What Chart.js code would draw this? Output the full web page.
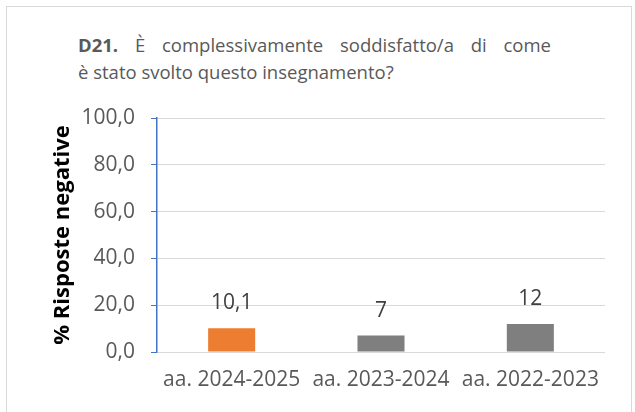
<!DOCTYPE html>
<html lang="it">
<head>
<meta charset="UTF-8" />
<title>D21</title>
<script src="https://cdn.jsdelivr.net/npm/chart.js"></script>
<style>
  html, body { margin: 0; padding: 0; background: #fff; }
  #wrap { position: relative; width: 635px; height: 412px; overflow: hidden; }
  #cornice {
    position: absolute; left: 6px; top: 6px; width: 626px; height: 420px;
    border: 1px solid #d9d9d9; box-sizing: border-box;
  }
  #titolo {
    position: absolute; left: 78px; top: 31px;
    font-family: "Open Sans", sans-serif; font-size: 18.5px; line-height: 27px; color: #595959;
  }
  #titolo .r1 { width: 473px; text-align: justify; text-align-last: justify; white-space: nowrap; }
  #grafico { position: absolute; left: 0; top: 0; }
</style>
</head>
<body>
<div id="wrap">
  <div id="cornice"></div>
  <div id="titolo">
    <div class="r1"><b>D21.</b> È complessivamente soddisfatto/a di come</div>
    <div>è stato svolto questo insegnamento?</div>
  </div>
  <canvas id="grafico" width="635" height="412"></canvas>
</div>

<script>
  // Dati
  const anni = ['aa. 2024-2025', 'aa. 2023-2024', 'aa. 2022-2023'];
  const risposteNegative = [10.1, 7, 12];
  const coloriBarre = ['#ED7D31', '#7F7F7F', '#7F7F7F'];
  const tickY = [0, 20, 40, 60, 80, 100];

  // Etichette sopra le barre
  const etichette = {
    id: 'etichette',
    afterDatasetsDraw(chart) {
      const ctx = chart.ctx;
      const meta = chart.getDatasetMeta(0);
      ctx.save();
      ctx.font = '21px "Open Sans", sans-serif';
      ctx.fillStyle = '#404040';
      ctx.textAlign = 'center';
      ctx.textBaseline = 'alphabetic';
      meta.data.forEach((bar, i) => {
        const testo = String(risposteNegative[i]).replace('.', ',');
        ctx.fillText(testo, bar.x, bar.y - 19);
      });
      ctx.restore();
    }
  };

  const ctx = document.getElementById('grafico').getContext('2d');
  new Chart(ctx, {
    type: 'bar',
    data: {
      labels: anni,
      datasets: [{
        data: risposteNegative,
        backgroundColor: coloriBarre,
        categoryPercentage: 1,
        barPercentage: 0.315
      }]
    },
    options: {
      responsive: false,
      animation: false,
      layout: { padding: { left: 48, right: 30, top: 118, bottom: 20 } },
      plugins: {
        legend: { display: false },
        tooltip: { enabled: false }
      },
      scales: {
        x: {
          grid: { display: false, drawTicks: false },
          border: { display: false },
          ticks: {
            padding: 15,
            color: '#595959',
            font: { family: 'Open Sans', size: 21 }
          },
          afterFit(scale) { scale.height = 40; }
        },
        y: {
          min: 0,
          max: 100,
          afterBuildTicks(scale) { scale.ticks = tickY.map(v => ({ value: v })); },
          grid: { color: '#d9d9d9', lineWidth: 1, tickLength: 6, tickColor: '#4472C4' },
          border: { color: '#4472C4', width: 1.5 },
          ticks: {
            padding: 16,
            color: '#595959',
            font: { family: 'Open Sans', size: 21 },
            callback: v => v.toFixed(1).replace('.', ',')
          },
          title: {
            display: true,
            text: '% Risposte negative',
            color: '#000',
            font: { family: 'Open Sans', size: 22, weight: 'bold' },
            padding: { top: 2, bottom: 0 }
          },
          afterFit(scale) { scale.width = 109; }
        }
      }
    },
    plugins: [etichette]
  });
</script>
</body>
</html>
